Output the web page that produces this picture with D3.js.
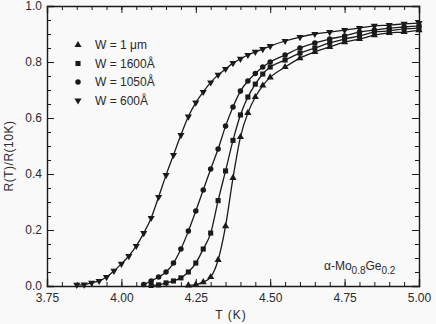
<!DOCTYPE html>
<html>
<head>
<meta charset="utf-8">
<script src="https://cdn.jsdelivr.net/npm/d3@7"></script>
<style>
  body { margin: 0; background: #f9f9f9; }
  svg { display: block; font-family: "Liberation Sans", "DejaVu Sans", sans-serif; }
  .axis path { stroke: #1a1a1a; stroke-width: 1.4; }
  .axis line { stroke: #1a1a1a; stroke-width: 1; }
  .axis text { fill: #2a2a2a; font-size: 12px; }
</style>
</head>
<body>
<div id="chart"></div>
<script>
// temperatures (K) and normalised resistance R(T)/R(10K)
var t1um = [4.225, 4.25, 4.275, 4.30, 4.325, 4.35, 4.375, 4.40, 4.425, 4.45, 4.475, 4.50,
  4.55, 4.60, 4.65, 4.70, 4.75, 4.80, 4.85, 4.90, 4.95, 5.00];
var r1um = [0.002, 0.005, 0.014, 0.032, 0.093, 0.214, 0.386, 0.532, 0.618, 0.675, 0.716, 0.745,
  0.782, 0.814, 0.836, 0.854, 0.871, 0.882, 0.896, 0.904, 0.907, 0.914];

var t1600 = [4.10, 4.125, 4.15, 4.175, 4.20, 4.225, 4.25, 4.275, 4.30, 4.325, 4.35, 4.375, 4.40,
  4.425, 4.45, 4.475, 4.50, 4.55, 4.60, 4.65, 4.70, 4.75, 4.80, 4.85, 4.90, 4.95, 5.00];
var r1600 = [0.002, 0.004, 0.011, 0.018, 0.029, 0.05, 0.082, 0.132, 0.189, 0.305, 0.411, 0.52, 0.611,
  0.675, 0.721, 0.757, 0.782, 0.807, 0.832, 0.85, 0.868, 0.882, 0.893, 0.907, 0.911, 0.918, 0.921];

var t1050 = [4.075, 4.10, 4.125, 4.15, 4.175, 4.20, 4.225, 4.25, 4.275, 4.30, 4.325, 4.35, 4.375,
  4.40, 4.425, 4.45, 4.475, 4.50, 4.55, 4.60, 4.65, 4.70, 4.75, 4.80, 4.85, 4.90, 4.95, 5.00];
var r1050 = [0.005, 0.018, 0.032, 0.05, 0.082, 0.132, 0.196, 0.268, 0.343, 0.418, 0.489, 0.571, 0.639,
  0.696, 0.732, 0.759, 0.782, 0.80, 0.825, 0.85, 0.868, 0.882, 0.893, 0.907, 0.914, 0.921, 0.925, 0.929];

var t600 = [3.85, 3.875, 3.90, 3.925, 3.95, 3.975, 4.00, 4.025, 4.05, 4.075, 4.10, 4.125, 4.15,
  4.175, 4.20, 4.225, 4.25, 4.275, 4.30, 4.325, 4.35, 4.375, 4.40, 4.425, 4.45, 4.475, 4.50,
  4.55, 4.60, 4.65, 4.70, 4.75, 4.80, 4.85, 4.90, 4.95, 5.00];
var r600 = [0.004, 0.005, 0.011, 0.018, 0.032, 0.054, 0.079, 0.107, 0.143, 0.189, 0.243, 0.318, 0.396,
  0.468, 0.539, 0.605, 0.655, 0.693, 0.727, 0.754, 0.775, 0.796, 0.811, 0.825, 0.836, 0.846, 0.857,
  0.875, 0.889, 0.90, 0.907, 0.914, 0.921, 0.929, 0.932, 0.936, 0.939];

var seriesLabels = ["W = 1 \u03bcm", "W = 1600\u00c5", "W = 1050\u00c5", "W = 600\u00c5"];
var xTicks = [3.75, 4.00, 4.25, 4.50, 4.75, 5.00];
var yTicks = [0.0, 0.2, 0.4, 0.6, 0.8, 1.0];

var margin = {top: 6, right: 17, bottom: 38, left: 47};
var width = 436 - margin.left - margin.right;
var height = 324 - margin.top - margin.bottom;

var svg = d3.select("#chart")
  .append("svg")
  .attr("width", 436)
  .attr("height", 324)
  .append("g")
  .attr("transform", "translate(" + margin.left + "," + margin.top + ")");

var x = d3.scaleLinear().domain([3.75, 5.00]).range([0, width]);
var y = d3.scaleLinear().domain([0, 1.0]).range([height, 0]);

var minorX = d3.range(76).map(function(i) { return 3.75 + i * 0.05; }).filter(function(v) { return v <= 5.0001; });
var minorY = d3.range(21).map(function(i) { return i * 0.05; });

// minor ticks on all four sides, pointing inward
function minor(axis, tr) {
  svg.append("g")
    .attr("class", "axis")
    .attr("transform", tr)
    .call(axis.tickSize(-4).tickFormat(""))
    .select(".domain").remove();
}
minor(d3.axisBottom(x).tickValues(minorX), "translate(0," + height + ")");
minor(d3.axisTop(x).tickValues(minorX), "translate(0,0)");
minor(d3.axisLeft(y).tickValues(minorY), "translate(0,0)");
minor(d3.axisRight(y).tickValues(minorY), "translate(" + width + ",0)");

// major ticks + labels
svg.append("g")
  .attr("class", "axis")
  .attr("transform", "translate(0," + height + ")")
  .call(d3.axisBottom(x).tickValues(xTicks).tickSize(-7).tickPadding(7).tickFormat(d3.format(".2f")));
svg.append("g")
  .attr("class", "axis")
  .call(d3.axisTop(x).tickValues(xTicks).tickSize(-7).tickFormat(""));
svg.append("g")
  .attr("class", "axis")
  .call(d3.axisLeft(y).tickValues(yTicks).tickSize(-7).tickPadding(5).tickFormat(d3.format(".1f")));
svg.append("g")
  .attr("class", "axis")
  .attr("transform", "translate(" + width + ",0)")
  .call(d3.axisRight(y).tickValues(yTicks).tickSize(-7).tickFormat(""));

// axis titles
svg.append("text")
  .attr("x", width / 2 - 2)
  .attr("y", height + 33)
  .attr("text-anchor", "middle")
  .style("font-size", "12px")
  .style("fill", "#2a2a2a")
  .style("letter-spacing", "1px")
  .text("T  (K)");

svg.append("text")
  .attr("transform", "translate(" + (-34) + "," + (height / 2 + 10) + ") rotate(-90)")
  .attr("text-anchor", "middle")
  .style("font-size", "12px")
  .style("fill", "#2a2a2a")
  .style("letter-spacing", "0.5px")
  .text("R(T)/R(10K)");

// sample label with subscripts
var note = svg.append("text")
  .attr("x", 277)
  .attr("y", 264)
  .style("font-size", "12px")
  .style("fill", "#2a2a2a");
note.append("tspan").text("\u03b1-Mo");
note.append("tspan").attr("dy", 4).style("font-size", "10px").text("0.8");
note.append("tspan").attr("dy", -4).text("Ge");
note.append("tspan").attr("dy", 4).style("font-size", "10px").text("0.2");

var symbols = [
  {type: d3.symbolTriangle, size: 22, rot: 0},
  {type: d3.symbolSquare, size: 26, rot: 0},
  {type: d3.symbolCircle, size: 24, rot: 0},
  {type: d3.symbolTriangle, size: 22, rot: 180}
];

var dataset = [
  t1um.map(function(t, i) { return {t: t, r: r1um[i]}; }),
  t1600.map(function(t, i) { return {t: t, r: r1600[i]}; }),
  t1050.map(function(t, i) { return {t: t, r: r1050[i]}; }),
  t600.map(function(t, i) { return {t: t, r: r600[i]}; })
];

var line = d3.line()
  .x(function(d) { return x(d.t); })
  .y(function(d) { return y(d.r); })
  .curve(d3.curveMonotoneX);

var groups = svg.selectAll("g.series")
  .data(dataset)
  .enter().append("g")
  .attr("class", "series");

groups.append("path")
  .attr("d", line)
  .attr("fill", "none")
  .attr("stroke", "#1a1a1a")
  .attr("stroke-width", 1.3);

groups.each(function(d, i) {
  var s = symbols[i];
  d3.select(this).selectAll("path.pt")
    .data(d)
    .enter().append("path")
    .attr("class", "pt")
    .attr("d", d3.symbol().type(s.type).size(s.size))
    .attr("transform", function(p) { return "translate(" + x(p.t) + "," + y(p.r) + ") rotate(" + s.rot + ")"; })
    .attr("fill", "#1a1a1a");
});

// legend
var legend = svg.selectAll(".legend")
  .data(seriesLabels)
  .enter().append("g")
  .attr("class", "legend")
  .attr("transform", function(d, i) { return "translate(31," + (39 + i * 18.5) + ")"; });

legend.append("path")
  .attr("d", function(d, i) { return d3.symbol().type(symbols[i].type).size(symbols[i].size)(); })
  .attr("transform", function(d, i) { return "rotate(" + symbols[i].rot + ")"; })
  .attr("fill", "#1a1a1a");

legend.append("text")
  .attr("x", 17)
  .attr("dy", "0.35em")
  .style("font-size", "12px")
  .style("fill", "#2a2a2a")
  .text(function(d) { return d; });
</script>
</body>
</html>
